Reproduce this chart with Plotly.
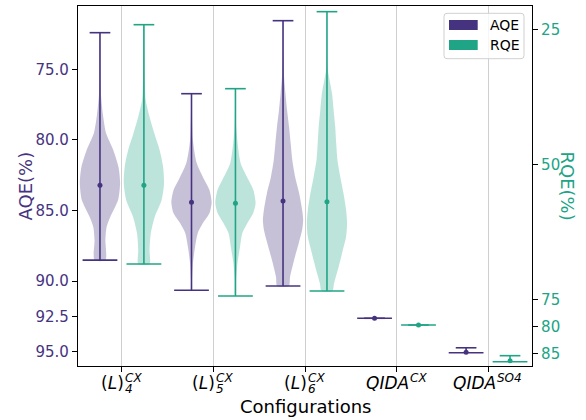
import plotly.graph_objects as go

# ---------------- data ----------------
categories = ["(L)4 CX", "(L)5 CX", "(L)6 CX", "QIDA CX", "QIDA SO4"]
label_main = ["(<i>L</i>)", "(<i>L</i>)", "(<i>L</i>)", "<i>QIDA</i>", "<i>QIDA</i>"]
label_sub = ["4", "5", "6", "", ""]
label_sup = ["CX", "CX", "CX", "CX", "SO4"]

aqe_min = [72.41, 76.73, 71.56, 92.63, 94.72]
aqe_max = [88.51, 90.65, 90.35, 92.63, 95.07]
aqe_mean = [83.21, 84.42, 84.33, 92.63, 95.03]

rqe_min = [24.15, 36.00, 21.74, 79.76, 85.44]
rqe_max = [68.46, 74.39, 73.46, 79.76, 86.55]
rqe_mean = [53.90, 57.22, 56.93, 79.76, 86.40]

# density profiles (value level, relative density)
aqe_l4_lev = [72.41, 75.5, 76.82, 78.24, 79.51, 80.72, 81.92, 83.05, 84.26, 85.46, 86.17, 87.09, 88.51]
aqe_l4_den = [0.01, 0.02, 0.05, 0.15, 0.30, 0.66, 0.92, 1.00, 0.90, 0.51, 0.33, 0.27, 0.27]
rqe_l4_lev = [24.15, 32.0, 35.3, 38.1, 41.2, 44.3, 47.35, 50.4, 53.5, 56.6, 59.7, 62.8, 65.9, 68.46]
rqe_l4_den = [0.01, 0.03, 0.05, 0.09, 0.28, 0.52, 0.78, 0.95, 1.00, 0.88, 0.54, 0.34, 0.28, 0.28]

aqe_l5_lev = [76.73, 80.01, 81.66, 82.84, 83.55, 84.42, 85.20, 85.91, 86.61, 87.56, 88.74, 89.92, 90.65]
aqe_l5_den = [0.0, 0.07, 0.26, 0.64, 0.89, 1.00, 0.89, 0.56, 0.31, 0.18, 0.07, 0.025, 0.015]
rqe_l5_lev = [36.00, 43.65, 49.81, 52.91, 54.76, 57.22, 59.07, 60.93, 62.78, 65.26, 68.33, 71.43, 74.39]
rqe_l5_den = [0.0, 0.05, 0.26, 0.65, 0.89, 1.00, 0.88, 0.59, 0.34, 0.23, 0.10, 0.035, 0.015]

aqe_l6_lev = [71.56, 74.0, 75.52, 76.70, 77.88, 79.07, 80.24, 81.42, 82.61, 83.78, 84.96, 85.67, 86.37, 87.32, 88.50, 89.69, 90.35]
aqe_l6_den = [0.0, 0.02, 0.05, 0.12, 0.20, 0.30, 0.38, 0.46, 0.60, 0.80, 0.95, 1.00, 0.95, 0.78, 0.55, 0.35, 0.29]
rqe_l6_lev = [21.74, 31.93, 36.85, 39.94, 43.04, 46.11, 49.20, 52.30, 55.37, 58.46, 60.93, 63.41, 65.87, 68.96, 72.04, 73.46]
rqe_l6_den = [0.0, 0.025, 0.25, 0.33, 0.41, 0.46, 0.52, 0.66, 0.82, 0.95, 1.00, 0.95, 0.79, 0.58, 0.35, 0.27]

aqe_profiles = [(aqe_l4_lev, aqe_l4_den), (aqe_l5_lev, aqe_l5_den), (aqe_l6_lev, aqe_l6_den), None, None]
rqe_profiles = [(rqe_l4_lev, rqe_l4_den), (rqe_l5_lev, rqe_l5_den), (rqe_l6_lev, rqe_l6_den), None, None]

# ---------------- style ----------------
PURPLE = "rgb(70,51,127)"
PURPLE_F = "rgba(70,51,127,0.3)"
TEAL = "rgb(32,164,134)"
TEAL_F = "rgba(32,164,134,0.3)"
FONT = "DejaVu Sans"
OFFSET = 0.24
HALF = 0.22
CAP_SHORT = 0.113
CAP_LONG = 0.19

fig = go.Figure()


def add_series(mins, maxs, means, profiles, color, fill, side, yaxis):
    for i in range(len(categories)):
        pos = i + side * OFFSET
        prof = profiles[i]
        if prof is not None:
            lev, den = prof
            xs = [pos + HALF * d for d in den] + [pos - HALF * d for d in reversed(den)]
            ys = list(lev) + list(reversed(lev))
            fig.add_trace(go.Scatter(x=xs, y=ys, mode="lines", fill="toself", fillcolor=fill,
                                     line=dict(width=0, shape="spline", smoothing=0.7),
                                     yaxis=yaxis, hoverinfo="skip", showlegend=False))
        fig.add_trace(go.Scatter(x=[pos, pos], y=[mins[i], maxs[i]], mode="lines",
                                 line=dict(color=color, width=1.6), yaxis=yaxis,
                                 hoverinfo="skip", showlegend=False))
        fig.add_trace(go.Scatter(x=[pos - CAP_SHORT, pos + CAP_SHORT], y=[mins[i], mins[i]], mode="lines",
                                 line=dict(color=color, width=1.6), yaxis=yaxis,
                                 hoverinfo="skip", showlegend=False))
        fig.add_trace(go.Scatter(x=[pos - CAP_LONG, pos + CAP_LONG], y=[maxs[i], maxs[i]], mode="lines",
                                 line=dict(color=color, width=1.6), yaxis=yaxis,
                                 hoverinfo="skip", showlegend=False))
    fig.add_trace(go.Scatter(x=[i + side * OFFSET for i in range(len(categories))], y=means,
                             mode="markers", marker=dict(color=color, size=5),
                             yaxis=yaxis, hoverinfo="skip", showlegend=False))


add_series(aqe_min, aqe_max, aqe_mean, aqe_profiles, PURPLE, PURPLE_F, -1, "y")
add_series(rqe_min, rqe_max, rqe_mean, rqe_profiles, TEAL, TEAL_F, 1, "y2")

# plot area in pixels: x 78..532, y 6..366
L, R, T, B = 78, 532, 6, 366
W, H = R - L, B - T


def px(x):
    return (x - L) / W


def py(y):
    return (B - y) / H


fig.update_layout(
    width=586, height=420,
    margin=dict(l=L, r=586 - R, t=T, b=420 - B, pad=0, autoexpand=False),
    plot_bgcolor="white", paper_bgcolor="white",
    font=dict(family=FONT, size=15, color="black"),
    showlegend=False,
    xaxis=dict(range=[-0.48, 4.48], tickvals=list(range(len(categories))), showticklabels=False,
               ticks="outside", ticklen=5, tickcolor="black", tickwidth=1,
               showgrid=True, gridcolor="#cfcfcf", gridwidth=1.2, zeroline=False,
               showline=True, linecolor="black", linewidth=1.2, mirror=True),
    yaxis=dict(range=[96.01, 70.52], tickvals=[75, 80, 85, 90, 92.5, 95],
               ticktext=["75.0", "80.0", "85.0", "90.0", "92.5", "95.0"],
               tickfont=dict(color=PURPLE, size=15), ticks="outside", ticklen=5,
               tickcolor="black", showgrid=False, zeroline=False,
               showline=True, linecolor="black", linewidth=1.2),
    yaxis2=dict(range=[87.35, 20.69], overlaying="y", side="right", tickvals=[25, 50, 75, 80, 85],
                tickfont=dict(color=TEAL, size=15), ticks="outside", ticklen=5,
                tickcolor="black", showgrid=False, zeroline=False,
                showline=True, linecolor="black", linewidth=1.2),
)

ann = []
junction = [3, 3, 3, 13, 9]
for i in range(len(categories)):
    ann.append(dict(x=i, xref="x", y=0, yref="paper", text=label_main[i], showarrow=False,
                    xanchor="right", yanchor="middle", xshift=junction[i], yshift=-17,
                    font=dict(size=17, color="black"), borderpad=0))
    if label_sub[i]:
        script = (f"<span style='font-size:12px'><i>{label_sup[i]}</i></span><br>"
                  f"<span style='font-size:12px'><i>{label_sub[i]}</i></span>")
        ann.append(dict(x=i, xref="x", y=0, yref="paper", text=script, showarrow=False, align="left",
                        xanchor="left", yanchor="middle", xshift=junction[i] - 1, yshift=-17.5,
                        font=dict(size=8.5, color="black"), borderpad=0))
    else:
        ann.append(dict(x=i, xref="x", y=0, yref="paper", text=f"<i>{label_sup[i]}</i>", showarrow=False,
                        xanchor="left", yanchor="middle", xshift=junction[i] - 1, yshift=-12,
                        font=dict(size=12, color="black"), borderpad=0))

ann.append(dict(x=0.5, xref="paper", y=0, yref="paper", text="Configurations", showarrow=False,
                xanchor="center", yanchor="middle", yshift=-40, font=dict(size=18, color="black")))
ann.append(dict(x=0, xref="paper", y=0.5, yref="paper", text="AQE(%)", showarrow=False, textangle=-90,
                xanchor="center", yanchor="middle", xshift=-53.5, font=dict(size=18, color=PURPLE)))
ann.append(dict(x=1, xref="paper", y=0.5, yref="paper", text="RQE(%)", showarrow=False, textangle=90,
                xanchor="center", yanchor="middle", xshift=35.5, font=dict(size=18, color=TEAL)))

# legend (drawn manually to match the wide rectangular patches)
lx0, lx1, ly0, ly1, r = 444, 524, 13.3, 58.7, 3
path = (f"M {px(lx0 + r)},{py(ly0)} L {px(lx1 - r)},{py(ly0)} Q {px(lx1)},{py(ly0)} {px(lx1)},{py(ly0 + r)} "
        f"L {px(lx1)},{py(ly1 - r)} Q {px(lx1)},{py(ly1)} {px(lx1 - r)},{py(ly1)} "
        f"L {px(lx0 + r)},{py(ly1)} Q {px(lx0)},{py(ly1)} {px(lx0)},{py(ly1 - r)} "
        f"L {px(lx0)},{py(ly0 + r)} Q {px(lx0)},{py(ly0)} {px(lx0 + r)},{py(ly0)} Z")
shapes = [
    dict(type="path", xref="paper", yref="paper", path=path, fillcolor="rgba(255,255,255,0.8)",
         line=dict(color="#d0d0d0", width=1), layer="above"),
    dict(type="rect", xref="paper", yref="paper", x0=px(449), x1=px(477.7), y0=py(30), y1=py(20),
         fillcolor=PURPLE, line=dict(width=0), layer="above"),
    dict(type="rect", xref="paper", yref="paper", x0=px(449), x1=px(477.7), y0=py(50), y1=py(40),
         fillcolor=TEAL, line=dict(width=0), layer="above"),
]
ann.append(dict(x=px(489), xref="paper", y=py(25), yref="paper", text="AQE", showarrow=False,
                xanchor="left", yanchor="middle", font=dict(size=14, color="black"), borderpad=0))
ann.append(dict(x=px(489), xref="paper", y=py(45), yref="paper", text="RQE", showarrow=False,
                xanchor="left", yanchor="middle", font=dict(size=14, color="black"), borderpad=0))

fig.update_layout(annotations=ann, shapes=shapes)
fig.write_html("out.html", config={"displayModeBar": False},
               post_script="document.body.style.margin='0px';document.body.style.padding='0px';")
